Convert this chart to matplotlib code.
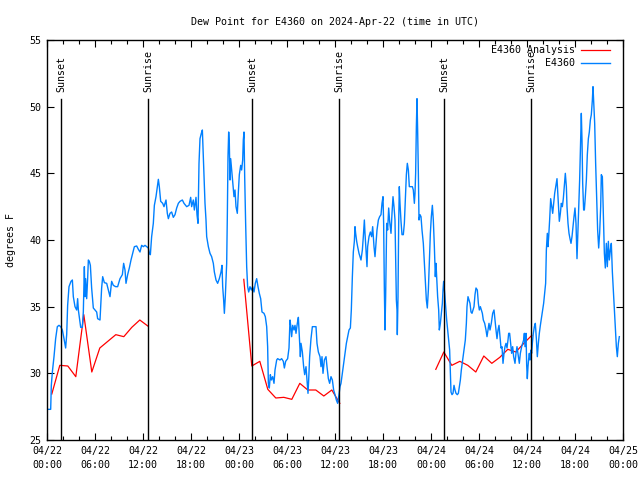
import matplotlib
matplotlib.use("Agg")
import matplotlib.pyplot as plt
import matplotlib.dates as mdates
import numpy as np
import pandas as pd

start = pd.Timestamp("2024-04-22 00:00")

# hours since 04/22 00:00 UTC, dew point in F
blue_hours = [
    0.0, 0.46, 0.54, 0.67, 0.875, 1.08, 1.29, 1.5, 1.71, 1.92, 2.125, 2.33, 2.46, 2.58, 2.75, 3.0,
    3.17, 3.29, 3.5, 3.71, 3.83, 3.92, 4.08, 4.21, 4.42, 4.54, 4.67, 4.75, 4.83, 4.96, 5.08, 5.17,
    5.29, 5.42, 5.58, 5.79, 6.0, 6.21, 6.33, 6.625, 6.83, 6.96, 7.17, 7.46, 7.67, 7.875, 8.08, 8.29,
    8.58, 8.83, 9.125, 9.42, 9.58, 9.75, 9.875, 10.08, 10.29, 10.5, 10.67, 10.92, 11.21, 11.42,
    11.625, 11.83, 12.04, 12.25, 12.46, 12.67, 12.79, 12.92, 13.08, 13.29, 13.42, 13.625, 13.79,
    13.92, 14.04, 14.21, 14.46,
    14.625, 14.875, 15.04, 15.17, 15.375, 15.58, 15.79, 16.0, 16.21, 16.42, 16.625, 16.92, 17.125,
    17.46, 17.75, 17.96, 18.08, 18.29, 18.42, 18.625, 18.75, 18.875, 19.0, 19.125, 19.29, 19.42,
    19.54, 19.75, 19.875, 19.96, 20.17, 20.375, 20.58, 20.79, 20.92, 21.125, 21.33, 21.54, 21.75,
    21.875, 21.96, 22.08, 22.17, 22.29, 22.46, 22.54, 22.625, 22.71, 22.79, 22.875, 22.96, 23.08,
    23.21, 23.375, 23.5, 23.625, 23.79, 23.92, 24.04, 24.21, 24.33, 24.46, 24.54, 24.625, 24.71,
    24.83, 24.96, 25.08, 25.21, 25.375, 25.54, 25.71, 25.875, 26.04, 26.21, 26.375, 26.54, 26.71,
    26.875, 27.125, 27.29, 27.46, 27.58, 27.67, 27.79, 27.92, 28.04, 28.21, 28.375, 28.5, 28.71,
    28.83,
    29.125, 29.33, 29.54, 29.67, 29.83, 30.08, 30.25, 30.375, 30.46, 30.58, 30.71, 30.875, 31.0,
    31.125, 31.29, 31.42, 31.54, 31.67, 31.75, 31.92, 32.08, 32.21, 32.375, 32.5, 32.625, 32.71,
    32.83, 33.0, 33.17, 33.42, 33.625, 33.75, 33.92, 34.125, 34.25, 34.375, 34.5, 34.67, 34.875,
    35.0, 35.17, 35.33, 35.5, 35.67, 35.83, 36.0, 36.17, 36.33, 36.5, 36.625, 36.75, 36.92, 37.08,
    37.25, 37.42, 37.58, 37.75, 37.92, 38.04, 38.17, 38.29, 38.42, 38.5, 38.58, 38.71, 38.83, 39.0,
    39.125, 39.25, 39.42, 39.54, 39.67, 39.75, 39.875, 40.0, 40.08, 40.25, 40.42, 40.58, 40.71,
    40.875, 41.0, 41.125, 41.25, 41.42, 41.58, 41.75, 41.875, 42.0, 42.08, 42.17, 42.25, 42.33,
    42.46, 42.58, 42.71, 42.83,
    43.0, 43.125, 43.25, 43.375, 43.5, 43.58, 43.67, 43.75, 43.79, 43.875, 43.96, 44.04, 44.125,
    44.25, 44.375, 44.54, 44.67, 44.79, 44.92, 45.04, 45.17, 45.29, 45.46, 45.67, 45.79, 45.92,
    46.0, 46.08, 46.17, 46.25, 46.33, 46.42, 46.5, 46.625, 46.75, 46.875, 47.04, 47.17, 47.29,
    47.42, 47.54, 47.67, 47.79, 47.92, 48.04, 48.17, 48.29, 48.42, 48.54, 48.625, 48.71, 48.83,
    48.96, 49.04, 49.17, 49.29, 49.42, 49.5, 49.58, 49.71, 49.83, 49.96, 50.08, 50.21, 50.33,
    50.42, 50.5, 50.625, 50.75, 50.875, 51.0, 51.125, 51.29, 51.42, 51.54, 51.67, 51.79, 51.96,
    52.125, 52.29, 52.42, 52.5, 52.625, 52.75, 52.875, 53.0, 53.125, 53.25, 53.375, 53.5, 53.625,
    53.79, 53.92, 54.04, 54.17, 54.29, 54.42, 54.54, 54.71, 54.875, 55.0, 55.125, 55.25, 55.375,
    55.54, 55.71, 55.875, 56.0, 56.125, 56.25, 56.375, 56.5, 56.625, 56.75, 56.875, 57.0, 57.125,
    57.25, 57.375, 57.5, 57.625, 57.71, 57.83, 57.96, 58.08, 58.21, 58.33, 58.5, 58.625, 58.75,
    58.92, 59.04, 59.17, 59.33, 59.46, 59.58, 59.67, 59.75, 59.875, 59.96, 60.04, 60.125, 60.21,
    60.29, 60.375, 60.5, 60.58, 60.67, 60.79, 60.92, 61.04, 61.17, 61.29, 61.42, 61.54, 61.67,
    61.83, 61.96, 62.08, 62.21, 62.33, 62.42, 62.54, 62.625, 62.71, 62.83, 62.96, 63.08, 63.21,
    63.33, 63.46, 63.625, 63.75, 63.83, 63.96, 64.04, 64.17, 64.29, 64.42, 64.54, 64.67, 64.79,
    64.92, 65.0, 65.125, 65.25, 65.375, 65.5, 65.625, 65.75, 65.875, 66.0, 66.125, 66.25, 66.33,
    66.46, 66.58, 66.71, 66.79, 66.875, 66.96, 67.08, 67.17, 67.29, 67.42, 67.54, 67.67, 67.79,
    67.92, 68.04, 68.17, 68.25, 68.33, 68.46, 68.58, 68.71, 68.83, 68.96, 69.08, 69.21, 69.29,
    69.42, 69.54, 69.67, 69.79, 69.92, 70.04, 70.17, 70.29, 70.42, 70.54, 70.67, 70.79, 70.92,
    71.04, 71.17, 71.29, 71.42, 71.54,
]
blue_vals = [
    27.3, 27.3, 29.1, 30.1, 31.25, 32.6, 33.5, 33.6, 33.5, 33.25, 32.6, 31.9, 32.9, 35.1, 36.5, 36.9,
    37.0, 35.75, 35.0, 34.75, 35.6, 34.75, 34.0, 33.45, 33.45, 34.6, 38.0, 35.75, 37.1, 35.6, 37.1, 38.5,
    38.4, 38.1, 36.4, 34.9, 34.75, 34.6, 34.1, 34.0, 36.4, 37.25, 36.8, 36.75, 36.25, 35.75, 36.9, 36.6,
    36.5, 36.5, 37.1, 37.4, 38.25, 37.75, 36.75, 37.4, 37.9, 38.5, 38.9, 39.5, 39.55, 39.3,
    39.1, 39.6, 39.5, 39.6, 39.5, 39.4, 39.0, 38.9, 40.25, 41.25, 42.6, 43.25, 44.0,
    44.55, 44.0, 42.9, 42.75,
    42.5, 43.0, 42.0, 41.6, 42.0, 42.1, 41.7, 41.9, 42.4, 42.75, 42.9, 43.0, 42.75,
    42.5, 42.6, 43.2, 42.5, 43.0, 42.25, 43.2, 41.9, 41.25, 45.75, 47.6, 48.0, 48.25,
    46.25, 42.75, 41.5, 40.25, 39.5, 39.0, 38.75, 38.25, 37.6, 37.0, 36.75, 37.1, 37.6,
    38.1, 36.5, 35.5, 34.5, 35.75, 38.25, 41.75, 46.25, 48.1, 47.25, 44.5, 46.1, 45.25,
    44.4, 43.25, 43.75, 42.5, 42.0, 43.6, 44.9, 45.6, 45.25, 46.0, 47.5, 48.1, 44.75,
    41.25, 38.0, 36.5, 36.1, 36.5, 36.25, 36.5, 36.1, 36.75, 37.1, 36.5, 36.0, 35.6,
    34.6, 34.5, 34.25, 33.5, 32.0, 29.25, 28.9, 29.9, 29.5, 29.75, 29.25, 30.25, 31.0,
    31.1,
    31.0, 31.1, 30.9, 30.4, 30.9, 31.1, 31.9, 34.0, 33.6, 32.75, 33.6, 33.25, 33.6,
    33.0, 33.75, 34.2, 32.75, 31.25, 32.25, 31.6, 30.5, 29.9, 30.5, 29.5, 28.5, 29.5,
    31.25, 32.6, 33.5, 33.5, 33.5, 32.25, 31.6, 31.25, 30.5, 31.25, 30.0, 31.0, 31.25,
    30.5, 29.6, 29.25, 29.75, 29.5, 28.75, 28.4, 28.0, 27.75, 28.4, 29.0, 29.25, 30.0, 30.75,
    31.5, 32.25, 32.75, 33.25, 33.4, 34.75, 37.25, 39.1, 39.9, 41.0, 40.5, 39.9, 39.5, 39.0,
    38.75, 38.5, 39.25, 40.25, 41.5, 40.5, 39.25, 38.0, 39.5, 40.25, 40.6, 40.25, 41.0,
    39.5, 38.75, 39.75, 40.75, 41.5, 41.75, 41.9, 42.75, 43.25, 41.25, 36.25, 33.25, 35.75,
    41.25, 40.75, 42.4, 41.4,
    40.5, 42.0, 43.25, 42.5, 41.5, 38.5, 35.5, 34.75, 32.9, 35.75, 41.25, 44.0, 42.75,
    41.4, 40.4, 40.4, 41.25, 43.1, 44.9, 45.75, 45.25, 44.0, 44.0, 44.0, 43.75, 42.75,
    43.5, 45.0, 48.5, 50.6, 48.25, 45.0, 41.5, 41.9, 41.75, 40.75, 39.75, 38.25, 37.0,
    35.5, 34.9, 36.25, 38.25, 40.5, 41.75, 42.6, 41.5, 39.5, 37.25, 38.25, 37.25, 35.75,
    34.75, 33.25, 33.75, 34.5, 35.25, 36.25, 36.9, 36.0, 35.0, 34.0, 33.25, 32.5, 31.75,
    30.0, 28.6, 28.4, 28.5, 29.1, 28.75, 28.5, 28.4, 28.5, 29.0, 29.5, 30.25, 31.0,
    31.75, 32.5, 33.75, 35.0, 35.75, 35.5, 35.25, 34.6, 34.5, 34.75, 35.0, 35.9, 36.4,
    36.25, 35.25, 34.75, 35.0, 34.75, 34.5, 34.0, 33.75, 33.25, 32.75, 33.25, 33.75, 33.25,
    33.75, 34.5, 34.75, 34.0, 33.25, 32.6, 33.25, 33.6, 32.75, 31.9, 32.0, 30.75, 31.5,
    32.0, 32.25, 31.9, 32.5, 33.0, 33.0, 32.25, 31.5, 32.0, 31.25, 30.75, 31.5, 32.0,
    31.25, 30.75, 31.5, 32.0, 32.25, 32.5, 33.0, 32.0, 33.0, 30.6, 29.6, 30.5, 31.1,
    31.5, 31.0, 31.75, 31.5, 32.25, 33.0, 33.5, 33.75, 32.6, 31.25, 32.25, 33.0, 33.6,
    34.25, 34.75, 35.25, 36.0, 36.75, 39.25, 40.5, 39.5, 40.25, 41.5, 43.1, 42.6, 42.0,
    42.75, 43.5, 44.1, 44.6, 43.75, 42.25, 41.4, 42.0, 42.75, 42.5, 43.1, 44.1, 45.0,
    44.0, 42.5, 41.25, 40.5, 40.1, 39.75, 40.25, 41.0, 41.75, 42.4, 41.25, 38.6, 40.0,
    42.5, 44.5, 47.6, 49.5, 47.5, 44.25, 42.25, 42.25, 43.25, 44.5, 46.4, 47.6, 48.1,
    49.0, 49.4, 50.5, 51.5, 50.5, 48.75, 45.75, 43.0, 40.75, 39.4, 40.5, 42.5, 44.9,
    44.75, 42.0, 39.0, 37.9, 39.75, 38.0, 39.9, 38.5, 39.25, 39.75, 37.6, 36.25, 34.75,
    33.4, 32.0, 31.25, 32.25, 32.75,
]

# hourly analysis, gaps as NaN
red_hours = list(np.arange(0.6, 12.7, 1.0)) + [18.0] + list(np.arange(24.6, 36.7, 1.0)) + [42.0] + list(np.arange(48.6, 60.7, 1.0))
red_vals = [28.45, 30.6, 30.55, 29.75, 34.4, 30.1, 31.9, 32.4, 32.9, 32.75, 33.45, 34.0, 33.55,
            np.nan,
            37.05, 30.55, 30.9, 28.8, 28.15, 28.2, 28.05, 29.25, 28.75, 28.75, 28.3, 28.75, 27.75,
            np.nan,
            30.3, 31.6, 30.6, 30.9, 30.6, 30.1, 31.3, 30.75, 31.2, 31.8, 31.6, 32.25, 32.85]

sun_hours = [1.75, 12.67, 25.67, 36.54, 49.67, 60.54]
sun_labels = ["Sunset", "Sunrise", "Sunset", "Sunrise", "Sunset", "Sunrise"]

to_time = lambda h: start + pd.to_timedelta(np.asarray(h, dtype=float), unit="h")

plt.rcParams['font.family'] = ['DejaVu Sans Mono']
fs = 7.2

fig = plt.figure(figsize=(6.4, 4.8), dpi=100)
ax = fig.add_axes([47 / 640, 40 / 480, 576 / 640, 400 / 480])

ax.plot(to_time(red_hours), red_vals, color="#ff0000", lw=0.9)
ax.plot(to_time(blue_hours), blue_vals, color="#0080ff", lw=1.0)

for h, lab in zip(sun_hours, sun_labels):
    t = mdates.date2num(to_time([h])[0])
    ax.plot([t, t], [0, 0.852], color="black", lw=1.0, transform=ax.get_xaxis_transform())
    ax.text(t, 0.87, lab, rotation=90, ha="center", va="bottom", fontsize=fs,
            transform=ax.get_xaxis_transform())

# legend, gnuplot style (text right-aligned, sample after)
ax.text(0.917, 0.975, "E4360 Analysis", ha="right", va="center", fontsize=fs, transform=ax.transAxes)
ax.text(0.917, 0.9425, "E4360", ha="right", va="center", fontsize=fs, transform=ax.transAxes)
ax.plot([0.927, 0.977], [0.975, 0.975], color="#ff0000", lw=0.9, transform=ax.transAxes)
ax.plot([0.927, 0.977], [0.9425, 0.9425], color="#0080ff", lw=1.0, transform=ax.transAxes)

ax.set_xlim(start, start + pd.Timedelta(hours=72))
ax.set_ylim(25, 55)
ax.set_yticks(range(25, 56, 5))
ax.xaxis.set_major_locator(mdates.HourLocator(byhour=[0, 6, 12, 18]))
ax.xaxis.set_minor_locator(mdates.HourLocator(interval=2))
ax.xaxis.set_major_formatter(mdates.DateFormatter("%m/%d\n%H:%M"))
ax.tick_params(which="both", direction="in", top=True, right=True, labelsize=fs, width=0.8)
ax.tick_params(which="major", length=5, pad=4)
ax.tick_params(which="minor", length=3)
for lbl in ax.get_xticklabels():
    lbl.set_linespacing(1.5)
for sp in ax.spines.values():
    sp.set_linewidth(1.0)

ax.set_title("Dew Point for E4360 on 2024-Apr-22 (time in UTC)", fontsize=fs, pad=11)
ax.set_ylabel("degrees F", fontsize=fs, labelpad=10)

fig.savefig("out.png", dpi=100)
